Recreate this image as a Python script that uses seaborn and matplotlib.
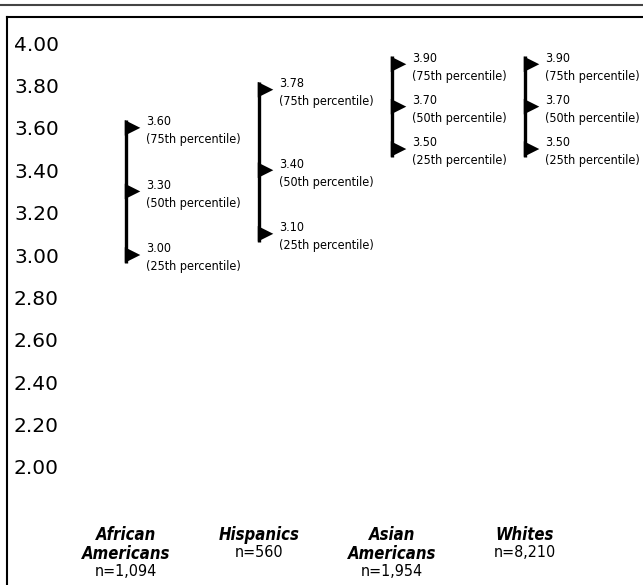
import matplotlib
matplotlib.use("Agg")
import matplotlib.pyplot as plt
import matplotlib.transforms as mtransforms
import seaborn as sns
import pandas as pd

groups = ["African\nAmericans", "Hispanics", "Asian\nAmericans", "Whites"]
sample_sizes = ["n=1,094", "n=560", "n=1,954", "n=8,210"]
p25 = [3.00, 3.10, 3.50, 3.50]
p50 = [3.30, 3.40, 3.70, 3.70]
p75 = [3.60, 3.78, 3.90, 3.90]
y_ticks = [2.00, 2.20, 2.40, 2.60, 2.80, 3.00, 3.20, 3.40, 3.60, 3.80, 4.00]

rows = []
for i, g in enumerate(groups):
    for pct, vals in (("25th", p25), ("50th", p50), ("75th", p75)):
        rows.append({"pos": i, "group": g, "pct": pct, "gpa": vals[i]})
df = pd.DataFrame(rows)

sns.set_theme(style="white")
plt.rcParams["font.family"] = ["DejaVu Sans"]

fig = plt.figure(figsize=(6.43, 5.85), dpi=100)
# frame: left edge at x=7px, top edge at y=17px
ax = fig.add_axes([7 / 643, 0, 636 / 643, 568 / 585])
ax.set_xlim(-0.895, 3.887)
ax.set_ylim(1.443, 4.123)

# vertical bars spanning the 25th-75th range
bar_pad = 0.038
ax.vlines(range(len(groups)), [v - bar_pad for v in p25], [v + bar_pad for v in p75],
          color="black", linewidth=2.4)

# percentile markers, shifted right of the bar
shift = ax.transData + mtransforms.ScaledTranslation(6.5 / 100, 0, fig.dpi_scale_trans)
sns.scatterplot(data=df, x="pos", y="gpa", marker=">", s=125, color="black",
                edgecolor="none", ax=ax, transform=shift, legend=False, zorder=3)

# value labels
for _, r in df.iterrows():
    ax.annotate(f"{r['gpa']:.2f}\n({r['pct']} percentile)", xy=(r["pos"], r["gpa"]),
                xytext=(14.5, -2), textcoords="offset points", ha="left", va="center",
                fontsize=9, fontstretch="condensed", linespacing=1.5, color="black")

# group labels under the chart
for i, g in enumerate(groups):
    t = ax.text(i, 1.722, g, ha="center", va="top", fontsize=12, fontweight="bold",
                fontstyle="italic", fontstretch="condensed", linespacing=1.05,
                color="black")
    ax.annotate(sample_sizes[i], xy=(0.5, 0), xycoords=t, xytext=(0, -1),
                textcoords="offset points", ha="center", va="top", fontsize=11.5,
                fontstretch="condensed", color="black")

ax.set_yticks(y_ticks)
ax.set_yticklabels([f"{v:.2f}" for v in y_ticks])
ax.tick_params(axis="y", length=0, pad=-5, labelsize=14.5, labelcolor="black")
for lab in ax.get_yticklabels():
    lab.set_horizontalalignment("left")
ax.set_xticks([])
ax.set_xlabel("")
ax.set_ylabel("")

for side in ("right", "bottom"):
    ax.spines[side].set_visible(False)
for side in ("top", "left"):
    ax.spines[side].set_color("black")
    ax.spines[side].set_linewidth(1.5)

# thin rule above the frame
fig.add_artist(plt.Line2D([0, 1], [1 - 5 / 585, 1 - 5 / 585], color="#444444",
                          linewidth=1.5, transform=fig.transFigure))

fig.savefig("out.png", dpi=100)
